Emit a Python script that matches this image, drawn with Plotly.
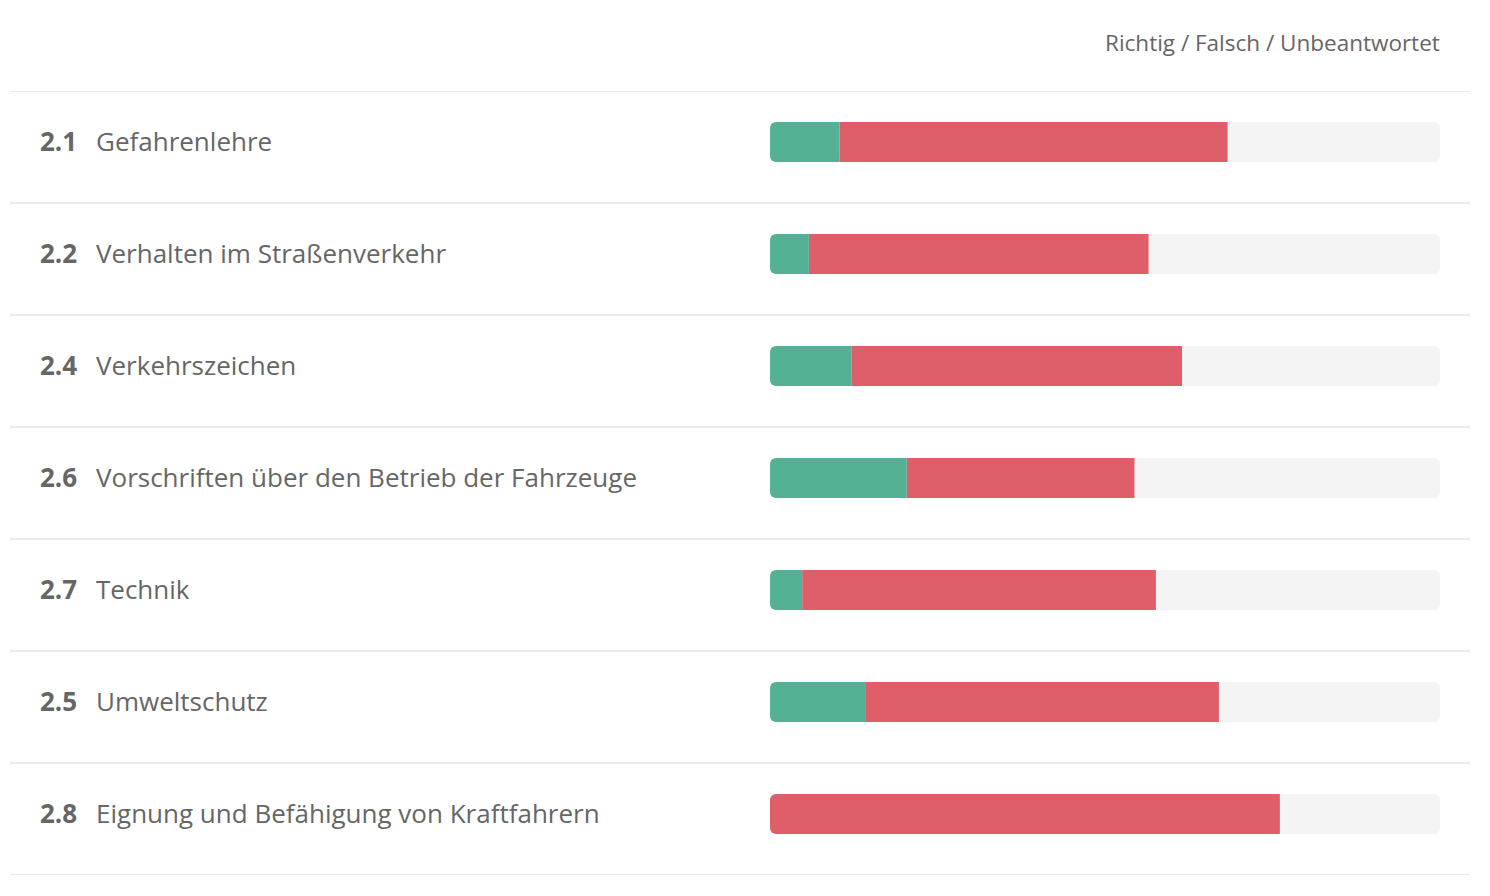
import plotly.graph_objects as go

numbers = ["2.1", "2.2", "2.4", "2.6", "2.7", "2.5", "2.8"]
topics = ["Gefahrenlehre", "Verhalten im Straßenverkehr", "Verkehrszeichen",
          "Vorschriften über den Betrieb der Fahrzeuge", "Technik", "Umweltschutz",
          "Eignung und Befähigung von Kraftfahrern"]
richtig = [10.4, 5.8, 12.2, 20.4, 4.8, 14.2, 0.0]   # percent correct
falsch = [57.9, 50.7, 49.3, 34.0, 52.8, 52.8, 76.1]  # percent wrong
total = 100.0

W, H = 1490, 896
GREEN = "#54b196"
RED = "#de5f6a"
TRACK = "#f4f4f4"
TEXT = "#666666"
FONT = "Open Sans"

rows = list(range(len(topics)))
unanswered = [total - g - r for g, r in zip(richtig, falsch)]
half = total / 2
bw = 40 / 112
shift = 5 / 112  # bars sit slightly above row centre
text_shift = 1.5 / 112

fig = go.Figure()
# track: two halves stacked around 0, each outer end rounded
fig.add_trace(go.Bar(y=rows, x=[half] * len(rows), orientation="h", xaxis="x", yaxis="y",
                     marker=dict(color=TRACK, line_width=0), width=bw, hoverinfo="skip"))
fig.add_trace(go.Bar(y=rows, x=[-half] * len(rows), orientation="h", xaxis="x", yaxis="y",
                     marker=dict(color=TRACK, line_width=0), width=bw, hoverinfo="skip"))
# answered part: stacked leftwards from the right end of the track
fig.add_trace(go.Bar(y=rows, x=[-u for u in unanswered], orientation="h", xaxis="x2", yaxis="y2",
                     name="Unbeantwortet", marker=dict(color="rgba(0,0,0,0)", line_width=0),
                     width=bw, hoverinfo="skip"))
fig.add_trace(go.Bar(y=rows, x=[-f for f in falsch], orientation="h", xaxis="x2", yaxis="y2",
                     name="Falsch", marker=dict(color=RED, line_width=0), width=bw))
fig.add_trace(go.Bar(y=rows, x=[-g for g in richtig], orientation="h", xaxis="x2", yaxis="y2",
                     name="Richtig", marker=dict(color=GREEN, line_width=0), width=bw))

yr = [len(rows) - 0.5 + shift, -0.5 + shift]
dom = [770 / W, 1440 / W]
fig.update_layout(
    width=W, height=H, barmode="relative", barcornerradius=6, showlegend=False,
    plot_bgcolor="rgba(0,0,0,0)", paper_bgcolor="white",
    margin=dict(l=0, r=0, t=91, b=21),
    font=dict(family=FONT, color=TEXT),
    xaxis=dict(domain=dom, range=[-half, half], visible=False, fixedrange=True),
    yaxis=dict(range=yr, visible=False, fixedrange=True),
    xaxis2=dict(domain=dom, range=[-total, 0], visible=False, fixedrange=True,
                overlaying="x", anchor="y2"),
    yaxis2=dict(range=yr, visible=False, fixedrange=True, overlaying="y", anchor="x2"),
)

# separators
for i in range(len(rows) + 1):
    fig.add_shape(type="line", xref="paper", yref="y", x0=10 / W, x1=1470 / W,
                  y0=i - 0.5 + shift, y1=i - 0.5 + shift,
                  line=dict(color="#e6e6e6", width=1.5), layer="below")

for i, (n, t) in enumerate(zip(numbers, topics)):
    fig.add_annotation(xref="paper", yref="y", x=38 / W, y=i - text_shift, text=f"<b>{n}</b>",
                       showarrow=False, xanchor="left", yanchor="middle",
                       font=dict(size=26, color=TEXT, family=FONT))
    fig.add_annotation(xref="paper", yref="y", x=94 / W, y=i - text_shift, text=t,
                       showarrow=False, xanchor="left", yanchor="middle",
                       font=dict(size=26, color=TEXT, family=FONT))

fig.add_annotation(xref="paper", yref="paper", x=1442 / W, y=(875 - 43) / 784,
                   text="Richtig / Falsch / Unbeantwortet", showarrow=False,
                   xanchor="right", yanchor="middle", font=dict(size=22.5, color=TEXT, family=FONT))

fig.write_html("out.html")
